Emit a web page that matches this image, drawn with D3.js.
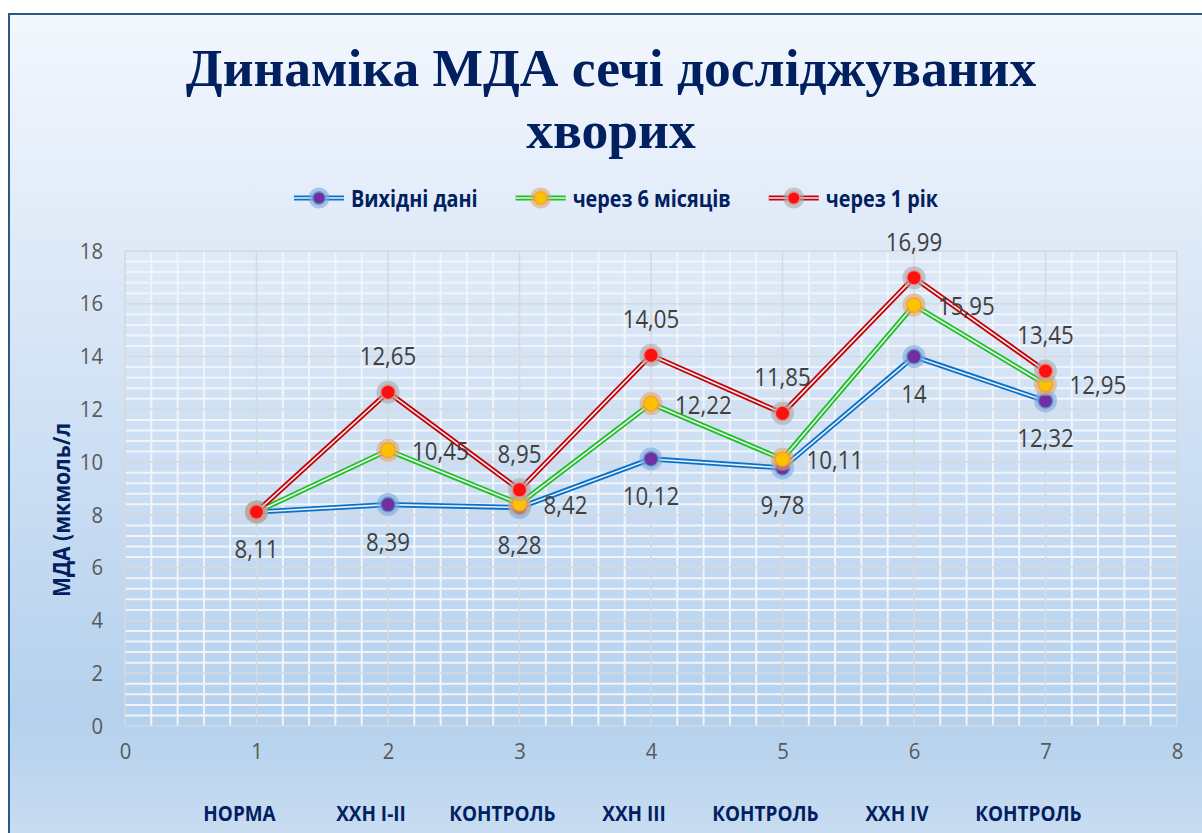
<!DOCTYPE html>
<html>
<head>
<meta charset="utf-8">
<script src="https://cdn.jsdelivr.net/npm/d3@7/dist/d3.min.js"></script>
<style>
  body { margin: 0; background: #fff; }
  svg { display: block; }
</style>
</head>
<body>
<svg width="1202" height="833"></svg>
<script>
// DATA
var categories = ["НОРМА", "ХХН І-ІІ", "КОНТРОЛЬ", "ХХН ІІІ", "КОНТРОЛЬ", "ХХН ІV", "КОНТРОЛЬ"];
var xValues = [1, 2, 3, 4, 5, 6, 7];
var baseline = [8.11, 8.39, 8.28, 10.12, 9.78, 14, 12.32];
var after6m = [8.11, 10.45, 8.42, 12.22, 10.11, 15.95, 12.95];
var after1y = [8.11, 12.65, 8.95, 14.05, 11.85, 16.99, 13.45];
var seriesNames = ["Вихідні дані", "через 6 місяців", "через 1 рік"];
var xTicks = [0, 1, 2, 3, 4, 5, 6, 7, 8];
var yTicks = [0, 2, 4, 6, 8, 10, 12, 14, 16, 18];

// styles per series
var series = [
  { name: seriesNames[0], values: baseline, line: "#0a70c8", halo: "#7fa9dc", ring: "#5b8fd0", fill: "#7030a0", label: "below" },
  { name: seriesNames[1], values: after6m,  line: "#1ec01e", halo: "#e2a765", ring: "#f0a030", fill: "#ffc000", label: "right" },
  { name: seriesNames[2], values: after1y,  line: "#c80000", halo: "#a9a9a9", ring: "#e88a8a", fill: "#ff1010", label: "above" }
];

var svg = d3.select("svg");
var navy = "#002060";

// narrow Open Sans a bit so it looks like Calibri
function narrow(sel, k) {
  sel.each(function() {
    var w = this.getComputedTextLength();
    d3.select(this).attr("textLength", w * k).attr("lengthAdjust", "spacingAndGlyphs");
  });
}

// BACKGROUND
var defs = svg.append("defs");
var grad = defs.append("linearGradient")
  .attr("id", "bg")
  .attr("gradientUnits", "userSpaceOnUse")
  .attr("x1", 0).attr("y1", 14).attr("x2", 0).attr("y2", 833);
[[0, "#f3f7fe"], [0.28, "#dfeaf8"], [0.6, "#c8dcf2"], [0.86, "#b4d1ed"], [1, "#c8dcf1"]].forEach(function(s) {
  grad.append("stop").attr("offset", s[0]).attr("stop-color", s[1]);
});

svg.append("rect")
  .attr("x", 9).attr("y", 14)
  .attr("width", 1210).attr("height", 840)
  .attr("fill", "url(#bg)")
  .attr("stroke", "#2b5886")
  .attr("stroke-width", 2);

// SCALES
var x = d3.scaleLinear().domain([0, 8]).range([125, 1177]);
var y = d3.scaleLinear().domain([0, 18]).range([726, 251]);

// GRID
var grid = svg.append("g");
var minorX = d3.range(0, 8.001, 0.2).filter(function(v) { return Math.abs(v - Math.round(v)) > 0.01; });
var minorY = d3.range(0, 18.001, 0.4).filter(function(v) { return Math.abs(v / 2 - Math.round(v / 2)) > 0.01; });

grid.selectAll(".minx").data(minorX).enter().append("line")
  .attr("x1", function(d) { return x(d); }).attr("x2", function(d) { return x(d); })
  .attr("y1", y(18)).attr("y2", y(0))
  .attr("stroke", "#f1f5fa").attr("stroke-width", 2);
grid.selectAll(".miny").data(minorY).enter().append("line")
  .attr("y1", function(d) { return y(d); }).attr("y2", function(d) { return y(d); })
  .attr("x1", x(0)).attr("x2", x(8))
  .attr("stroke", "#f1f5fa").attr("stroke-width", 2);
grid.selectAll(".majx").data(xTicks).enter().append("line")
  .attr("x1", function(d) { return x(d); }).attr("x2", function(d) { return x(d); })
  .attr("y1", y(18)).attr("y2", y(0))
  .attr("stroke", "#d6d9dd").attr("stroke-width", 1.6);
grid.selectAll(".majy").data(yTicks).enter().append("line")
  .attr("y1", function(d) { return y(d); }).attr("y2", function(d) { return y(d); })
  .attr("x1", x(0)).attr("x2", x(8))
  .attr("stroke", "#d6d9dd").attr("stroke-width", 1.6);

// AXES (labels only)
var yAxis = d3.axisLeft(y).tickValues(yTicks).tickSize(0).tickPadding(22);
var xAxis = d3.axisBottom(x).tickValues(xTicks).tickSize(0).tickPadding(17);

var gy = svg.append("g").attr("transform", "translate(" + x(0) + ",0)").call(yAxis);
var gx = svg.append("g").attr("transform", "translate(0," + y(0) + ")").call(xAxis);
[gx, gy].forEach(function(g) {
  g.select(".domain").remove();
  g.selectAll("text")
    .attr("font-family", "Open Sans")
    .attr("font-size", 22.5)
    .attr("fill", "#595959");
  narrow(g.selectAll("text"), 0.9);
});

// SERIES
var line = d3.line()
  .x(function(d, i) { return x(xValues[i]); })
  .y(function(d) { return y(d); });

function fmt(v) { return String(v).replace(".", ","); }

function drawMarker(g, cx, cy, s, r) {
  g.append("circle").attr("cx", cx).attr("cy", cy).attr("r", r + 5)
    .attr("fill", s.halo).attr("opacity", 0.6);
  g.append("circle").attr("cx", cx).attr("cy", cy).attr("r", r + 1.5)
    .attr("fill", s.ring).attr("opacity", 0.85);
  g.append("circle").attr("cx", cx).attr("cy", cy).attr("r", r)
    .attr("fill", s.fill);
}

var plot = svg.append("g");
series.forEach(function(s) {
  var g = plot.append("g");
  g.append("path").datum(s.values)
    .attr("d", line).attr("fill", "none")
    .attr("stroke", s.line).attr("stroke-width", 5.2);
  g.append("path").datum(s.values)
    .attr("d", line).attr("fill", "none")
    .attr("stroke", "#eaf1fa").attr("stroke-width", 1.6);
  s.values.forEach(function(v, i) {
    drawMarker(g, x(xValues[i]), y(v), s, 6.5);
  });
});

// DATA LABELS
var labels = svg.append("g");
series.forEach(function(s, si) {
  s.values.forEach(function(v, i) {
    if (i === 0 && si > 0) return;
    var px = x(xValues[i]), py = y(v);
    var t = labels.append("text")
      .attr("font-family", "Open Sans")
      .attr("font-size", 25)
      .attr("fill", "#404040")
      .attr("dominant-baseline", "central")
      .text(fmt(v));
    if (s.label === "below") {
      t.attr("x", px).attr("y", py + 36).attr("text-anchor", "middle");
    } else if (s.label === "above") {
      t.attr("x", px).attr("y", py - 37).attr("text-anchor", "middle");
    } else {
      t.attr("x", px + 24).attr("y", py).attr("text-anchor", "start");
    }
  });
});
narrow(labels.selectAll("text"), 0.89);

// CATEGORY LABELS
var cats = svg.append("g").selectAll("text").data(categories).enter().append("text")
  .attr("x", function(d, i) { return x(xValues[i]) - 17; })
  .attr("y", 812)
  .attr("text-anchor", "middle")
  .attr("dominant-baseline", "central")
  .attr("font-family", "Open Sans")
  .attr("font-weight", "bold")
  .attr("font-size", 21.5)
  .attr("fill", navy)
  .text(function(d) { return d; });
narrow(cats, 0.88);

// Y TITLE
var yt = svg.append("text")
  .attr("transform", "translate(70,510) rotate(-90)")
  .attr("text-anchor", "middle")
  .attr("font-family", "Open Sans")
  .attr("font-weight", "bold")
  .attr("font-size", 24)
  .attr("fill", navy)
  .text("МДА (мкмоль/л");
narrow(yt, 0.88);

// TITLE
var title = svg.append("text")
  .attr("text-anchor", "middle")
  .attr("font-family", "Liberation Serif")
  .attr("font-weight", "bold")
  .attr("font-size", 53.5)
  .attr("fill", navy);
title.append("tspan").attr("x", 611).attr("y", 86).text("Динаміка МДА сечі досліджуваних");
title.append("tspan").attr("x", 611).attr("y", 148).text("хворих");

// LEGEND
var legend = svg.append("g");
var items = [];
series.forEach(function(s) {
  var g = legend.append("g");
  g.append("line").attr("x1", 0).attr("x2", 50).attr("y1", 0).attr("y2", 0)
    .attr("stroke", s.line).attr("stroke-width", 5.2);
  g.append("line").attr("x1", 0).attr("x2", 50).attr("y1", 0).attr("y2", 0)
    .attr("stroke", "#eaf1fa").attr("stroke-width", 1.6);
  drawMarker(g, 25, 0, s, 5.5);
  var t = g.append("text")
    .attr("x", 57).attr("y", 0)
    .attr("dominant-baseline", "central")
    .attr("font-family", "Open Sans")
    .attr("font-weight", "bold")
    .attr("font-size", 23)
    .attr("fill", navy)
    .text(s.name);
  narrow(t, 0.86);
  items.push({ g: g, w: 57 + (+t.attr("textLength")) });
});
var gap = 38;
var total = d3.sum(items, function(d) { return d.w; }) + gap * (items.length - 1);
var cur = 616 - total / 2;
items.forEach(function(it) {
  it.g.attr("transform", "translate(" + cur + ",198)");
  cur += it.w + gap;
});
</script>
</body>
</html>
